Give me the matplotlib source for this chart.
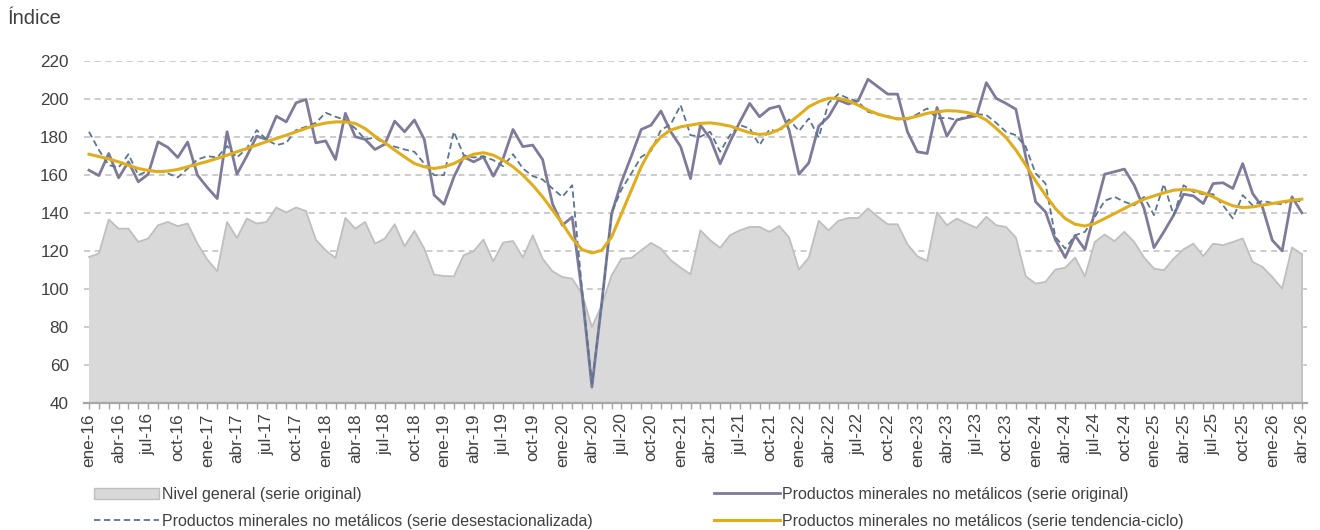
import matplotlib
matplotlib.use("Agg")
import matplotlib.pyplot as plt
from matplotlib.lines import Line2D
from matplotlib.patches import Patch
import numpy as np

plt.rcParams["font.family"] = ["Liberation Sans", "DejaVu Sans"]

# monthly series, ene-16 .. abr-26
month_names = ["ene", "feb", "mar", "abr", "may", "jun",
               "jul", "ago", "sep", "oct", "nov", "dic"]
first_year = 2016
n_months = 124

nivel_general = [
    117.0, 118.8, 136.7, 131.9, 131.9, 124.9, 126.7, 133.7, 135.4, 133.2, 134.6, 124.0,
    115.6, 109.5, 135.4, 127.0, 137.2, 134.6, 135.4, 143.0, 140.4, 143.0, 141.2, 126.1,
    120.5, 116.5, 137.5, 131.9, 135.4, 124.0, 126.7, 134.2,
    122.6, 130.7, 121.4, 107.7, 107.0, 106.8, 117.9, 120.0, 126.1, 114.7, 124.6, 125.4,
    116.7, 128.4, 116.1, 109.5, 106.5, 105.6, 97.7, 80.2, 91.6, 107.4, 116.1, 116.5,
    120.5, 124.4, 121.4, 115.3, 111.4, 107.9, 131.0,
    125.8, 121.8, 128.4, 131.0, 132.8, 132.8, 130.2, 133.3, 127.2, 110.4, 116.7, 136.0,
    131.0, 136.0, 137.5, 137.5, 142.5, 138.1, 134.2, 134.2, 123.7, 117.4, 114.9, 140.4,
    133.7, 137.2, 134.6, 132.3, 138.1, 133.7,
    132.8, 127.2, 106.8, 103.0, 103.9, 110.4, 111.4, 116.7, 106.8, 124.9, 128.8, 125.3,
    130.2, 124.9, 116.7, 110.9, 110.0, 116.1, 121.0, 124.0, 117.4, 124.0, 123.2, 124.9,
    126.7, 114.4, 111.8, 106.5, 100.4, 122.0, 118.4,
]

pmnm_original = [
    162.6, 159.8, 171.4, 158.6, 167.0, 156.5, 160.5, 177.5, 174.6, 169.3, 177.4, 160.0,
    153.5, 147.7, 182.8, 160.5, 170.0, 180.5, 178.8, 191.0, 188.0, 198.0, 199.8, 177.0,
    178.0, 168.2, 192.5, 180.2, 178.8, 173.5, 176.3, 188.4,
    182.8, 189.0, 178.8, 149.5, 144.7, 159.0, 169.6, 167.0, 169.6, 159.5, 168.8, 184.0,
    175.0, 175.8, 168.2, 145.0, 133.7, 138.0, 98.0, 48.6, 93.0, 139.8, 156.5, 170.0,
    184.0, 186.3, 193.7, 182.8, 175.0, 158.2, 186.3,
    179.3, 166.0, 177.5, 188.0, 197.7, 190.7, 195.0, 196.3, 183.7, 160.5, 166.5, 185.8,
    190.7, 199.5, 197.4, 199.1, 210.4, 206.5, 202.6, 202.6, 182.8, 172.3, 171.4, 195.6,
    180.5, 189.0, 190.2, 191.2, 208.6, 200.4,
    197.7, 194.6, 169.6, 146.0, 140.7, 126.1, 116.7, 128.2, 120.9, 140.7, 160.5, 161.8,
    163.2, 154.7, 142.5, 121.9, 130.2, 139.0, 150.0, 149.1, 145.1, 155.6, 156.0, 153.0,
    166.1, 150.4, 143.3, 125.8, 120.2, 148.6, 140.2,
]

pmnm_desest = [
    182.8, 173.2, 165.3, 164.0, 171.0, 160.0, 162.3, 162.3, 160.9, 158.8, 163.5, 168.2,
    170.0, 169.3, 175.3, 169.3, 174.0, 183.7, 178.8, 175.8, 177.0, 183.7, 185.4, 187.5,
    192.8, 190.7, 189.0, 184.6, 178.8, 179.8, 176.3, 175.0,
    173.5, 172.3, 166.1, 160.0, 160.0, 182.8, 170.5, 169.3, 170.0, 167.9, 164.7, 171.0,
    163.5, 159.5, 157.7, 153.0, 148.6, 154.7, 100.0, 50.4, 92.5, 140.2, 152.5, 160.9,
    169.6, 172.8, 183.7, 186.8, 196.8, 181.0, 180.2,
    182.8, 172.3, 181.0, 186.3, 184.6, 175.8, 184.0, 182.8, 189.3, 183.2, 189.8, 179.8,
    198.0, 202.6, 200.4, 198.6, 193.3, 191.9, 191.0, 189.8, 189.3, 192.1, 195.1, 189.8,
    190.2, 189.0, 191.0, 192.1, 191.6, 187.5,
    182.8, 181.0, 174.9, 160.9, 155.6, 127.5, 121.4, 128.4, 130.2, 138.0, 146.5, 148.6,
    146.0, 144.2, 148.6, 139.0, 155.3, 139.0, 154.7, 151.2, 150.0, 150.0, 144.2, 137.2,
    149.5, 144.2, 146.5, 145.4, 144.7, 147.2, 146.0,
]

pmnm_tendencia = [
    171.0, 169.8, 168.5, 167.0, 165.2, 163.5, 162.5, 161.8, 162.2, 163.0, 164.4, 165.8,
    167.2, 168.8, 170.5, 172.3, 174.0, 175.8, 177.6, 179.3, 181.0, 182.8, 184.6, 186.3,
    187.4, 188.0, 188.0, 187.2, 184.5, 180.5, 177.0, 173.2,
    169.6, 166.1, 164.4, 163.5, 164.4, 166.1, 168.8, 171.0, 171.8, 170.5, 167.9, 164.4,
    160.0, 154.7, 148.6, 141.6, 134.6, 126.7, 120.9, 119.1, 120.5, 127.5, 139.8, 152.1,
    164.4, 174.0, 180.2, 183.7, 185.4, 186.3, 187.2,
    187.5, 186.8, 185.8, 184.0, 182.3, 181.4, 181.9, 184.0, 187.5, 191.6, 196.0, 198.6,
    200.4, 200.4, 199.1, 196.8, 194.2, 192.1, 190.7, 189.5, 189.8, 191.0, 192.5, 193.3,
    193.9, 193.7, 193.0, 191.6, 189.0, 184.6,
    179.8, 173.2, 165.3, 157.0, 149.5, 142.5, 137.2, 134.2, 133.3, 134.6, 137.2, 139.8,
    142.5, 145.1, 147.4, 149.1, 150.7, 152.1, 152.5, 152.1, 150.7, 148.6, 146.0, 143.9,
    143.0, 143.3, 144.2, 145.1, 146.0, 146.8, 147.4,
]

labels = [f"{month_names[m % 12]}-{(first_year + m // 12) % 100:02d}" for m in range(n_months)]
x = np.arange(n_months)

c_area = "#d9d9d9"
c_area_edge = "#bfbfbf"
c_orig = "#7f7a99"
c_desest = "#5a7592"
c_trend = "#e0ae1c"
c_text = "#404040"

fig = plt.figure(figsize=(13.2, 5.3), dpi=100)
ax = fig.add_axes([0.0637, 0.2387, 0.9263, 0.6462])

ax.set_xlim(-0.5, n_months - 0.5)
ax.set_ylim(40, 220)
y0 = ax.get_ylim()[0]

ax.fill_between(x, y0, nivel_general, facecolor=c_area, edgecolor="none", zorder=2)
ax.plot(x, nivel_general, color=c_area_edge, lw=1.3, zorder=2.1)
ax.plot([x[-1], x[-1]], [y0, nivel_general[-1]], color=c_area_edge, lw=1.3, zorder=2.1)
ax.plot(x, pmnm_original, color=c_orig, lw=2.0, zorder=3)
ax.plot(x, pmnm_desest, color=c_desest, lw=1.3, ls=(0, (3.5, 2)), zorder=4)
ax.plot(x, pmnm_tendencia, color=c_trend, lw=2.2, zorder=5)

ax.set_yticks(np.arange(40, 221, 20))
ax.grid(axis="y", color="#bfbfbf", ls=(0, (4, 3)), lw=1.1, zorder=0)
ax.set_axisbelow(True)

ax.set_xticks(x[::3])
ax.set_xticklabels(labels[::3], rotation=90)
ax.set_xticks(x, minor=True)
ax.tick_params(axis="x", which="both", direction="out", length=4, width=1,
               color="#a6a6a6", labelsize=12.3, labelcolor=c_text, pad=3)
ax.tick_params(axis="y", length=0, labelsize=12.3, labelcolor=c_text, pad=11)

for side in ["top", "right", "left"]:
    ax.spines[side].set_visible(False)
ax.spines["bottom"].set_color("#a6a6a6")
ax.spines["bottom"].set_linewidth(1.6)

fig.text(0.006, 0.965, "Índice", fontsize=14.5, color=c_text, va="center", ha="left")

h_area = Patch(facecolor=c_area, edgecolor=c_area_edge, lw=1)
h_orig = Line2D([], [], color=c_orig, lw=2.0)
h_desest = Line2D([], [], color=c_desest, lw=1.3, ls=(0, (3.5, 2)))
h_trend = Line2D([], [], color=c_trend, lw=2.2)

leg_kw = dict(frameon=False, fontsize=11.5, labelcolor=c_text, handlelength=4.1,
              handletextpad=0.15, labelspacing=0.75, borderaxespad=0, borderpad=0,
              loc="upper left")
fig.legend([h_area, h_desest],
           ["Nivel general (serie original)",
            "Productos minerales no metálicos (serie desestacionalizada)"],
           bbox_to_anchor=(0.071, 0.081), **leg_kw)
fig.legend([h_orig, h_trend],
           ["Productos minerales no metálicos (serie original)",
            "Productos minerales no metálicos (serie tendencia-ciclo)"],
           bbox_to_anchor=(0.541, 0.081), **leg_kw)

fig.savefig("out.png", dpi=100)
plt.close(fig)
